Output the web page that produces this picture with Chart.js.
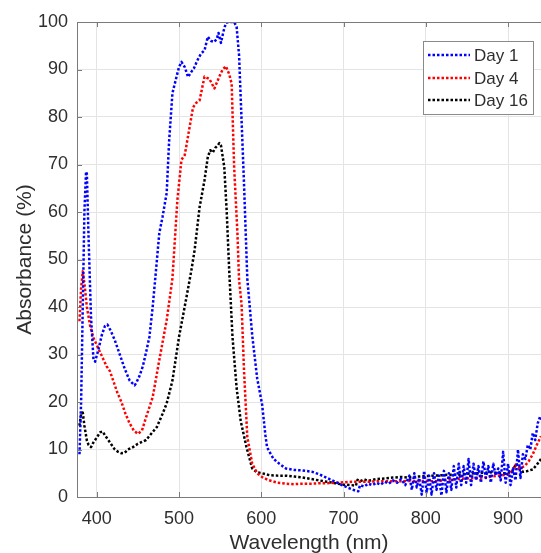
<!DOCTYPE html>
<html lang="en">
<head>
<meta charset="UTF-8">
<title>Absorbance</title>
<script src="https://cdn.jsdelivr.net/npm/chart.js@4.4.0/dist/chart.umd.min.js"></script>
<style>
  html, body { margin: 0; padding: 0; background: #fff; overflow: hidden; }
</style>
</head>
<body>
<canvas id="absChart" width="541" height="560"></canvas>
<script>
// Day 1 spectrum
const day1Nm = [379, 381, 383, 385, 387, 388, 390, 393, 396, 398, 402, 406, 410, 413, 417, 422, 428, 434, 440, 446,
  448, 452, 456, 460, 464, 468, 472, 476, 480, 485, 488, 492, 497, 500, 503, 507, 511, 515, 518, 521, 524, 527,
  531, 535, 539, 543, 546, 548, 551, 554, 557, 560, 564, 567, 570, 573, 575, 579, 583, 589, 595, 601, 605, 607,
  610, 615, 622, 630, 640, 650, 662, 670, 680, 690, 698, 706, 715, 718,
  720, 725, 730, 735, 740, 745, 750, 755, 760, 765, 770, 775, 780, 783, 786, 789, 792, 795, 798, 801, 804, 807,
  810, 813, 816, 819, 822, 825, 828, 831, 834, 837, 840, 843, 846, 849, 852, 855, 858, 861, 864, 867, 870, 873,
  876, 879, 882, 885, 888, 891, 894, 897, 900, 903, 906, 909, 912, 915, 918, 921, 924, 927, 930, 933, 936, 939, 941];
const day1Abs = [9, 20, 40, 60, 68.5, 68, 55, 38, 29, 28.5, 31, 34, 36, 36.3, 35, 33, 30, 27, 24.5, 23.5,
  24, 25.5, 27.5, 30.5, 33.7, 40, 47.7, 55.5, 59, 64, 75, 85, 88.5, 90.5, 91.6, 90.5, 88.4, 89.5, 90.2, 91.4, 92.5, 93.4,
  94, 96.9, 96, 95.8, 96.5, 97.7, 95.6, 98, 99.8, 100, 100, 100, 99, 93, 84, 66, 46, 34, 25, 19.5, 13, 10.5,
  9.5, 8, 7, 6, 5.7, 5.6, 5.3, 4.8, 4, 3.2, 2.5, 1.9, 1.3, 1.2,
  2.5, 2.2, 2.8, 2.5, 3, 2.6, 3.2, 2.8, 3.5, 3, 3.8, 2.5, 4.5, 1.5, 5, 2, 4, 0.5, 5.5, 1, 4.5, 0.5,
  5, 1.5, 4.5, 0.3, 5.5, 1, 5, 1.5, 6.5, 2, 7, 2.5, 6.5, 3, 8, 2.5, 7, 3.5, 6.5, 3, 7.5, 4,
  6.5, 3, 7, 4.5, 6, 3.5, 9.5, 3, 7, 2.5, 6, 3.5, 10, 4, 9, 8, 11, 10, 13.5, 12, 15.5, 17, 16];

// Day 4 spectrum
const day4Nm = [379, 381, 383, 385, 388, 392, 396, 400, 404, 408, 412, 416, 420, 425, 430, 435, 440, 445, 450, 455,
  460, 468, 476, 485, 492, 498, 503, 507, 513, 517, 521, 525, 531, 537, 543, 549, 553, 557, 561, 564, 567, 571,
  573, 576, 579, 583, 589, 595, 601, 608, 620, 630, 640, 650, 660, 670, 680, 690, 700, 710, 720, 730, 740, 750,
  760, 770, 780, 790, 800, 810, 820, 830, 840, 850, 860, 870, 880, 890, 900, 905, 909, 912, 916, 920, 925, 930, 935, 940];
const day4Abs = [37, 44, 47.5, 45, 40, 36, 33.5, 32, 30.5, 29, 27.5, 26.5, 24.5, 22, 20, 17.5, 15.5, 14, 13.3, 14,
  16.8, 21, 28.8, 37.2, 46, 62.5, 71, 72, 78, 82, 83, 83.5, 88.5, 88, 86, 88.5, 90, 90.7, 89, 87, 69.5, 55.5,
  45.6, 40.7, 26.7, 12.6, 7, 5, 4.2, 3.6, 3, 2.8, 2.7, 2.8, 2.8, 2.9, 2.9, 3, 3.1, 3.2, 3.2, 3.2, 3.3, 3.3,
  3.3, 3.3, 3.4, 3.3, 3.4, 3.3, 3.5, 3.7, 3.8, 3.9, 4, 4.1, 4.3, 4.5, 4.7, 5.5, 6.8, 6, 6.2, 6.5, 7.5, 9, 11, 12.8];

// Day 16 spectrum
const day16Nm = [379, 381, 383, 385, 388, 390, 393, 396, 400, 404, 407, 410, 414, 418, 422, 426, 430, 434, 438, 444,
  450, 455, 460, 467, 473, 480, 485, 492, 500, 509, 515, 519, 525, 531, 535, 538, 541, 544, 547, 549, 551, 555,
  558, 561, 565, 570, 575, 582, 589, 595, 601, 610, 620, 630, 640, 650, 660, 670, 680, 690, 700, 710, 715, 717,
  720, 725, 730, 740, 750, 760, 770, 780, 790, 800, 810, 820, 830, 840, 850, 860, 870, 880, 890, 900, 905, 910,
  914, 918, 922, 926, 930, 935, 940];
const day16Abs = [15, 17.5, 17.8, 15, 11.9, 11, 10.5, 11.5, 12.5, 13.6, 13.8, 13, 12, 11, 10, 9.5, 9.2, 9.3, 10, 10.5,
  11.2, 11.6, 12, 13.5, 14.7, 17.5, 19.7, 24.5, 33.7, 42, 47.7, 52, 61, 66.7, 71.6, 73, 72.5, 73.5, 74, 74.5, 74, 69.5,
  60, 47.7, 33.7, 23, 16, 10.5, 6, 5.2, 5, 4.6, 4.5, 4.5, 4.3, 4.1, 3.8, 3.5, 3.2, 2.9, 2.6, 2.5, 2.4, 3.6,
  3.3, 3.7, 3.4, 3.8, 3.9, 4.1, 4.2, 4.1, 4.3, 4.4, 4.5, 4.6, 4.7, 4.7, 4.9, 5, 5.1, 5.2, 5, 5, 5.5, 7,
  6, 5.3, 5.4, 5.6, 5.8, 6.8, 8];

const seriesLabels = ['Day 1', 'Day 4', 'Day 16'];
const seriesColors = ['#0000ff', '#ff0000', '#000000'];
const xTicks = [400, 500, 600, 700, 800, 900];

const axisColor = '#7a7a7a';
const gridColor = '#e4e4e4';
const textColor = '#2e2e2e';
const fontFamily = '"Liberation Sans", Arial, Helvetica, sans-serif';

function toPoints(xs, ys) {
  return xs.map((x, i) => ({ x: x, y: ys[i] }));
}

function makeDataset(i, xs, ys) {
  return {
    label: seriesLabels[i],
    data: toPoints(xs, ys),
    borderColor: seriesColors[i],
    backgroundColor: seriesColors[i],
    borderWidth: 2.5,
    borderDash: [2.5, 2],
    borderJoinStyle: 'round',
    pointRadius: 0,
    tension: 0,
    fill: false
  };
}

// box on top, inward ticks and a MATLAB style legend
const matlabFrame = {
  id: 'matlabFrame',
  afterDraw(chart) {
    const ctx = chart.ctx;
    const area = chart.chartArea;
    const xs = chart.scales.x;
    const ys = chart.scales.y;
    ctx.save();
    ctx.strokeStyle = axisColor;
    ctx.lineWidth = 1;
    ctx.beginPath();
    ctx.moveTo(area.left, area.top + 0.5);
    ctx.lineTo(area.right, area.top + 0.5);
    xTicks.forEach(v => {
      const px = Math.round(xs.getPixelForValue(v)) + 0.5;
      ctx.moveTo(px, area.top);
      ctx.lineTo(px, area.top + 5);
      ctx.moveTo(px, area.bottom);
      ctx.lineTo(px, area.bottom - 5);
    });
    for (let v = 0; v <= 100; v += 10) {
      const py = Math.round(ys.getPixelForValue(v)) + 0.5;
      ctx.moveTo(area.left, py);
      ctx.lineTo(area.left + 5, py);
    }
    ctx.stroke();

    // legend
    const bx = 423, by = 41, bw = 110, bh = 73;
    ctx.fillStyle = '#ffffff';
    ctx.fillRect(bx, by, bw, bh);
    ctx.strokeStyle = '#8a8a8a';
    ctx.strokeRect(bx + 0.5, by + 0.5, bw, bh);
    const rows = [55, 78, 100];
    chart.data.datasets.forEach((ds, i) => {
      ctx.strokeStyle = ds.borderColor;
      ctx.lineWidth = ds.borderWidth;
      ctx.setLineDash(ds.borderDash);
      ctx.beginPath();
      ctx.moveTo(428, rows[i]);
      ctx.lineTo(470, rows[i]);
      ctx.stroke();
      ctx.setLineDash([]);
      ctx.fillStyle = textColor;
      ctx.font = '17px ' + fontFamily;
      ctx.textBaseline = 'middle';
      ctx.textAlign = 'left';
      ctx.fillText(ds.label, 474, rows[i] + 1);
    });
    ctx.restore();
  }
};

new Chart(document.getElementById('absChart'), {
  type: 'line',
  data: {
    datasets: [
      makeDataset(0, day1Nm, day1Abs),
      makeDataset(1, day4Nm, day4Abs),
      makeDataset(2, day16Nm, day16Abs)
    ]
  },
  options: {
    responsive: false,
    animation: false,
    layout: { padding: { top: 22, right: 0, left: 0, bottom: 0 } },
    plugins: {
      legend: { display: false },
      tooltip: { enabled: false }
    },
    scales: {
      x: {
        type: 'linear',
        min: 376,
        max: 940,
        afterBuildTicks(scale) { scale.ticks = xTicks.map(v => ({ value: v })); },
        afterFit(scale) { scale.height = 63; },
        grid: { color: gridColor, drawTicks: false },
        border: { color: axisColor },
        ticks: { color: textColor, font: { family: fontFamily, size: 18 }, padding: 11, maxRotation: 0 },
        title: {
          display: true,
          text: 'Wavelength (nm)',
          color: textColor,
          font: { family: fontFamily, size: 21 },
          padding: { top: 0, bottom: 4 }
        }
      },
      y: {
        min: 0,
        max: 100,
        ticks: { stepSize: 10, color: textColor, font: { family: fontFamily, size: 18 }, padding: 9 },
        afterFit(scale) { scale.width = 77; },
        grid: { color: gridColor, drawTicks: false },
        border: { color: axisColor },
        title: {
          display: true,
          text: 'Absorbance (%)',
          color: textColor,
          font: { family: fontFamily, size: 21 },
          padding: { top: 13, bottom: 0 }
        }
      }
    }
  },
  plugins: [matlabFrame]
});
</script>
</body>
</html>
